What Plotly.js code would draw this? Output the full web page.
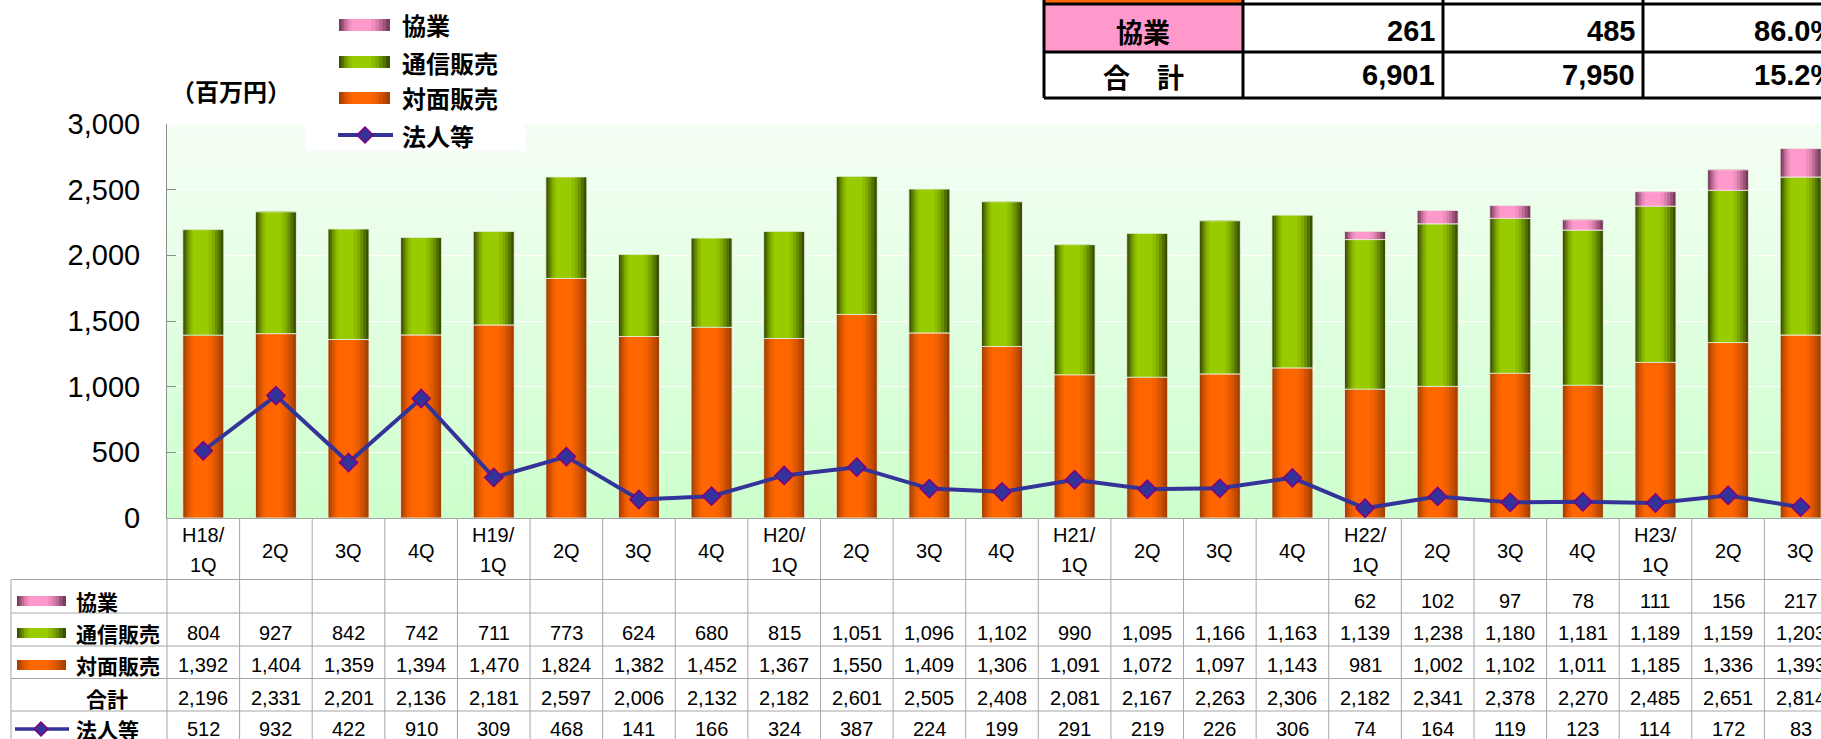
<!DOCTYPE html>
<html><head><meta charset="utf-8">
<script src="https://cdn.plot.ly/plotly-3.0.1.min.js"></script>
<style>html,body{margin:0;padding:0;overflow:hidden;background:#fff;width:1821px;height:739px}</style>
</head><body><div id="chart" style="width:1900px;height:739px"></div>
<script>
// ---------- data ----------
const quarters = ['H18/1Q','H18/2Q','H18/3Q','H18/4Q','H19/1Q','H19/2Q','H19/3Q','H19/4Q',
  'H20/1Q','H20/2Q','H20/3Q','H20/4Q','H21/1Q','H21/2Q','H21/3Q','H21/4Q',
  'H22/1Q','H22/2Q','H22/3Q','H22/4Q','H23/1Q','H23/2Q','H23/3Q'];
const tickLabels = ['H18/<br>1Q','2Q','3Q','4Q','H19/<br>1Q','2Q','3Q','4Q',
  'H20/<br>1Q','2Q','3Q','4Q','H21/<br>1Q','2Q','3Q','4Q',
  'H22/<br>1Q','2Q','3Q','4Q','H23/<br>1Q','2Q','3Q'];
const kyougyou = [null,null,null,null,null,null,null,null,null,null,null,null,null,null,null,null,
  62,102,97,78,111,156,217];
const tsuushin = [804,927,842,742,711,773,624,680,815,1051,1096,1102,990,1095,1166,1163,
  1139,1238,1180,1181,1189,1159,1203];
const taimen = [1392,1404,1359,1394,1470,1824,1382,1452,1367,1550,1409,1306,1091,1072,1097,1143,
  981,1002,1102,1011,1185,1336,1393];
const goukei = [2196,2331,2201,2136,2181,2597,2006,2132,2182,2601,2505,2408,2081,2167,2263,2306,
  2182,2341,2378,2270,2485,2651,2814];
const houjin = [512,932,422,910,309,468,141,166,324,387,224,199,291,219,226,306,
  74,164,119,123,114,172,83];
const seriesNames = ['協業','通信販売','対面販売','法人等'];
const yTicks = [0,500,1000,1500,2000,2500,3000];
const unitLabel = '（百万円）';
// summary table (top right)
const sumLabels = ['協業','合　計'];
const sumPrev = [261, 6901];
const sumCur = [485, 7950];
const sumRate = [86.0, 15.2];

// ---------- geometry / style ----------
const W=1900, H=739, L=167, T=124, PW=1670, PH=394, YB=T+PH;
const fx = px => (px - L)/PW;
const fy = py => (YB - py)/PH;
const N = quarters.length;
const CW = PW/N;
const JP = '"Noto Sans CJK JP", "Noto Sans", sans-serif';
const NUM = '"Liberation Sans", Arial, sans-serif';
const NARROW = '"Liberation Sans Narrow", "Arial Narrow", "Liberation Sans", sans-serif';
const fmt = v => String(v).replace(/\B(?=(\d{3})+(?!\d))/g, ',');

function hex2rgb(h){h=h.replace('#','');return [0,2,4].map(i=>parseInt(h.substr(i,2),16));}
function blend(a,b,t){const A=hex2rgb(a),B=hex2rgb(b);
  return 'rgb('+A.map((v,i)=>Math.round(v+(B[i]-v)*t)).join(',')+')';}

const pal = {
  pink:  {edge:'#7A3C5E', center:'#FF99CC'},
  green: {edge:'#3A5200', center:'#99CC00'},
  orange:{edge:'#A64000', center:'#FF6600'}
};
// shading bands: f = width fraction, t = blend toward highlight colour
const gradLayers = [{f:1.0,t:0},{f:0.88,t:0.25},{f:0.76,t:0.5},{f:0.64,t:0.72},{f:0.52,t:0.88},{f:0.38,t:1}];
const HL = 0.4;   // highlight position across the bar (0 = left edge)
const BW = 0.565;

// ---------- traces ----------
const traces = [];
const baseGreen = taimen.slice();
const basePink = taimen.map((v,i)=>v + tsuushin[i]);
const series = [
  {y:taimen, base:quarters.map(()=>0), p:pal.orange},
  {y:tsuushin, base:baseGreen, p:pal.green},
  {y:kyougyou, base:basePink, p:pal.pink}
];
series.forEach(s=>{
  gradLayers.forEach(g=>{
    traces.push({type:'bar', x:quarters, y:s.y, base:s.base, width:BW*g.f,
      offset:-BW/2 + (1-g.f)*BW*HL,
      marker:{color:blend(s.p.edge,s.p.center,g.t), line:{width:0}},
      hoverinfo:'skip', showlegend:false});
  });
  traces.push({type:'bar', x:quarters, y:s.y, base:s.base, width:BW, offset:-BW/2,
    marker:{color:'rgba(0,0,0,0)', line:{width:1, color:'rgba(240,245,230,0.85)'}},
    hoverinfo:'skip', showlegend:false});
});
traces.push({type:'scatter', mode:'lines+markers', x:quarters, y:houjin, name:seriesNames[3],
  line:{color:'#333399', width:4},
  marker:{symbol:'diamond', size:14, color:'#333399', line:{color:'#800080', width:1.5}},
  showlegend:false});

// ---------- shapes & annotations ----------
const shapes = [], anns = [];
function rect(x0,y0,x1,y1,fill,lc,lw){
  shapes.push({type:'rect', xref:'paper', yref:'paper', x0:fx(x0), x1:fx(x1), y0:fy(y1), y1:fy(y0),
    fillcolor:fill, line:{width:lw||0, color:lc||'rgba(0,0,0,0)'}, layer:'above'});
}
function seg(x0,y0,x1,y1,c,w){
  shapes.push({type:'line', xref:'paper', yref:'paper', x0:fx(x0), x1:fx(x1), y0:fy(y0), y1:fy(y1),
    line:{color:c, width:w}, layer:'above'});
}
function diamond(cx,cy,r,fill,lc){
  const p=[[cx-r,cy],[cx,cy-r],[cx+r,cy],[cx,cy+r]].map(q=>fx(q[0])+','+fy(q[1]));
  shapes.push({type:'path', xref:'paper', yref:'paper', path:'M'+p.join('L')+'Z',
    fillcolor:fill, line:{color:lc, width:1.5}, layer:'above'});
}
function gradKey(x0,x1,yc,h,p){
  const w=x1-x0;
  gradLayers.forEach(g=>{
    const l = x0 + (1-g.f)*w*HL;
    rect(l, yc-h/2, l + w*g.f, yc+h/2, blend(p.edge,p.center,g.t));
  });
}
function ann(text,px,py,size,family,xanchor,extra){
  anns.push(Object.assign({text:text, xref:'paper', yref:'paper', x:fx(px), y:fy(py), showarrow:false,
    xanchor:xanchor||'center', yanchor:'middle', font:{size:size, family:family, color:'#000'}}, extra||{}));
}

// data table lines
const TC = '#A6A6A6';
const rowLines = [579.5, 613, 646, 678.5, 711, 743.5];
rowLines.forEach(y=>seg(11, y, W, y, TC, 1));
for(let i=0;i<=N;i++){ const x=L+i*CW; seg(x, YB, x, H+10, TC, 1); }
seg(11, 579.5, 11, H+10, TC, 1);

// category header labels
tickLabels.forEach((lab,i)=>{
  const cx = L+(i+0.5)*CW;
  const parts = lab.split('<br>');
  if(parts.length===2){ ann(parts[0], cx, 535, 20, NUM); ann(parts[1], cx, 565, 20, NUM); }
  else ann(parts[0], cx, 551, 20, NUM);
});

// data rows
const rowY = [601, 633, 665, 698, 729];
const rowData = [kyougyou, tsuushin, taimen, goukei, houjin];
rowData.forEach((arr,r)=>{
  arr.forEach((v,i)=>{ if(v!==null) ann(fmt(v), L+(i+0.5)*CW, rowY[r], 20, NUM); });
});
// row labels with keys
gradKey(17, 66, rowY[0], 10, pal.pink);   ann('<b>'+seriesNames[0]+'</b>', 74, rowY[0], 21, JP, 'left');
gradKey(17, 66, rowY[1], 10, pal.green);  ann('<b>'+seriesNames[1]+'</b>', 74, rowY[1], 21, JP, 'left');
gradKey(17, 66, rowY[2], 10, pal.orange); ann('<b>'+seriesNames[2]+'</b>', 74, rowY[2], 21, JP, 'left');
ann('<b>合計</b>', 107, rowY[3], 21, JP);
seg(15, rowY[4], 69, rowY[4], '#333399', 3.5); diamond(41, rowY[4], 7, '#333399', '#800080');
ann('<b>'+seriesNames[3]+'</b>', 74, rowY[4], 21, JP, 'left');

// unit label
ann('<b>'+unitLabel+'</b>', 231, 91, 24, JP);

// top legend
rect(305, 0, 525, 151, '#FFFFFF');
const legY = [25, 62, 98, 135];
gradKey(339, 390, legY[0], 12, pal.pink);
gradKey(339, 390, legY[1], 12, pal.green);
gradKey(339, 390, legY[2], 12, pal.orange);
seg(338, legY[3], 393, legY[3], '#333399', 4); diamond(365, legY[3], 8, '#333399', '#800080');
seriesNames.forEach((n,i)=>ann('<b>'+n+'</b>', 400, legY[i], 24, JP, 'left'));

// summary table (top right)
rect(1044, -10, 1243, 4, '#FF6600');
rect(1044, 4, 1243, 52, '#FF99CC');
[4, 52, 98].forEach(y=>seg(1044, y, W, y, '#000', 3));
[1044, 1243, 1443, 1643, 1843].forEach(x=>seg(x, -10, x, 98, '#000', 3));
const sumY = [32, 76];
sumLabels.forEach((lab,r)=>{
  ann('<b>'+lab+'</b>', 1143, sumY[r], 27, JP);
  ann('<b>'+fmt(sumPrev[r])+'</b>', 1437, sumY[r]-1, 29, NUM, 'right');
  ann('<b>'+fmt(sumCur[r])+'</b>', 1637, sumY[r]-1, 29, NUM, 'right');
  ann('<b>'+sumRate[r].toFixed(1)+'%</b>', 1838, sumY[r]-1, 29, NUM, 'right');
});

// background gradient of plot area
const svg = "<svg xmlns='http://www.w3.org/2000/svg' width='10' height='100' preserveAspectRatio='none'>"+
  "<defs><linearGradient id='g' x1='0' y1='0' x2='0' y2='1'><stop offset='0' stop-color='#F5FEF5'/>"+
  "<stop offset='1' stop-color='#CCFFCC'/></linearGradient></defs><rect width='10' height='100' fill='url(#g)'/></svg>";
const bgURI = 'data:image/svg+xml;charset=utf-8,' + encodeURIComponent(svg);

const layout = {
  width:W, height:H, margin:{l:L, r:W-L-PW, t:T, b:H-YB, pad:0},
  paper_bgcolor:'#FFFFFF', plot_bgcolor:'#E2FBE2',
  barmode:'overlay', showlegend:false,
  images:[{source:bgURI, xref:'paper', yref:'paper', x:0, y:1, sizex:1, sizey:1,
    xanchor:'left', yanchor:'top', sizing:'stretch', layer:'below'}],
  xaxis:{type:'category', categoryarray:quarters, range:[-0.5, N-0.5], showticklabels:false,
    showgrid:false, zeroline:false, ticks:'', showline:true, linecolor:TC, linewidth:1, fixedrange:true},
  yaxis:{range:[0,3000], tickvals:yTicks, ticktext:yTicks.map(fmt), showgrid:true, gridcolor:'#FFFFFF',
    gridwidth:1, zeroline:false, ticks:'inside', ticklen:9, tickcolor:'#8C8C8C', showline:true,
    linecolor:'#8C8C8C', linewidth:1, ticklabelstandoff:20,
    tickfont:{family:NARROW, size:29, color:'#000'}, fixedrange:true},
  shapes:shapes, annotations:anns
};
Plotly.newPlot('chart', traces, layout, {displayModeBar:false, staticPlot:true});
</script></body></html>
